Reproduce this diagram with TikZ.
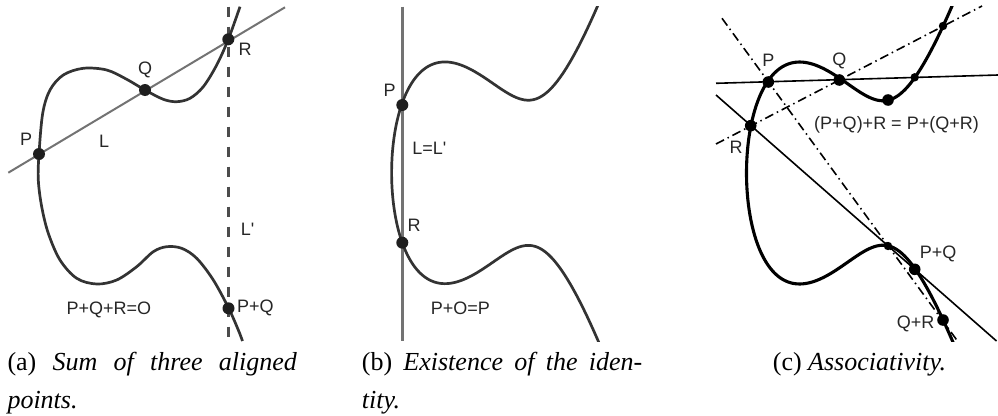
\documentclass[tikz,border=0pt]{standalone}
\usepackage{fontspec}
\setmainfont{Liberation Serif}
\newfontfamily\labfont{Liberation Sans}
\begin{document}
\begin{tikzpicture}[x=1pt,y=-1pt,
  lab/.style={inner sep=0pt, anchor=base, font=\labfont\fontsize{18}{20}\selectfont, text=black!85},
  captxt/.style={inner sep=0pt, anchor=base west, font=\fontsize{26}{30}\selectfont},
  dotA/.style={circle, fill=black!88, inner sep=0pt, minimum size=12pt},
  dotbig/.style={circle, fill=black, inner sep=0pt, minimum size=11.6pt},
  dotsmall/.style={circle, fill=black, inner sep=0pt, minimum size=8.4pt},
  curveA/.style={line width=2.7pt, draw=black!80, line join=round},
  lineA/.style={line width=2pt, draw=black!55},
  dashA/.style={line width=2.4pt, draw=black!70, dash pattern=on 10pt off 10pt},
  curveC/.style={line width=3.1pt, draw=black, line join=round},
  lineC/.style={line width=1.6pt, draw=black},
  dashdotC/.style={line width=1.6pt, draw=black, dash pattern=on 9pt off 4pt on 1.5pt off 4pt}
]
\useasboundingbox (0,0) rectangle (998,415);

% ---------------- panel (a) ----------------
\coordinate (La) at (8.3,172.7);
\coordinate (Lb) at (285,7.3);
\coordinate (Ltop) at (228.3,6.7);
\coordinate (Lbot) at (228.3,341);
\draw[lineA] (La) -- (Lb);
\draw[dashA] (Ltop) -- (Lbot);
\draw[curveA] plot[smooth, tension=0.55] coordinates {
 (240,6.7) (228.3,39.3) (216.7,65) (203.3,86.7) (190,98.3) (176.7,101.7)
 (163.3,99.3) (145,90) (126.7,79.3) (106.7,70) (83.3,68.3) (63.3,75)
 (50,90) (42.7,113.3) (39,154) (38.3,180) (41.7,206.7) (48.3,233.3)
 (60,260) (76.7,278.3) (96.7,284) (116.7,280) (136.7,266.7) (153.3,251.7)
 (166.7,246.7) (181.7,248.3) (196.7,258.3) (213.3,280) (228.7,308.3) (238.3,330) (242.5,341)};
\node[dotA] (aP) at (39,154) {};
\node[dotA] (aQ) at (145,90) {};
\node[dotA] (aR) at (228.3,39.3) {};
\node[dotA] (aPQ) at (228.5,308.3) {};
\node[lab] (laR) at (245,55.7) {R};
\node[lab] (laQ) at (145,74.7) {Q};
\node[lab] (laP) at (26.2,145.7) {P};
\node[lab] (laL) at (104.2,147.1) {L};
\node[lab] (laL2) at (247.5,235.7) {L\textquotesingle};
\node[lab] (laSum) at (108.8,314.7) {P+Q+R=O};
\node[lab] (laPQ) at (255.3,312.4) {P+Q};

% ---------------- panel (b) ----------------
\coordinate (Vtop) at (402.3,6.7);
\coordinate (Vbot) at (402.3,341);
\draw[line width=2.4pt, draw=black!55] (Vtop) -- (Vbot);
\begin{scope}
\clip (330,6.7) rectangle (700,341);
\draw[curveA] plot[domain=-2.3:2.26, samples=241, variable=\t]
  ({486.65+41.7*(\t*\t-2.279)},
   {172.8-41.9*\t*sqrt((\t*\t-2.279)*(\t*\t-2.279)-2.279*(\t*\t-2.279)+2.194)});
\end{scope}
\node[dotA] (bP) at (402.3,105) {};
\node[dotA] (bR) at (402.3,242.7) {};
\node[lab] (lbP) at (389.7,96.4) {P};
\node[lab] (lbR) at (414.2,231.4) {R};
\node[lab] (lbL) at (429.3,154.7) {L=L\textquotesingle};
\node[lab] (lbId) at (460.3,314.7) {P+O=P};

% ---------------- panel (c) ----------------
\coordinate (c1a) at (716,83.3);
\coordinate (c1b) at (998,75);
\coordinate (c2a) at (716,95);
\coordinate (c2b) at (996.5,341);
\coordinate (d1a) at (716,144);
\coordinate (d1b) at (982,6);
\coordinate (d2a) at (722,18.3);
\coordinate (d2b) at (957.5,341);
\draw[lineC] (c1a) -- (c1b);
\draw[lineC] (c2a) -- (c2b);
\draw[dashdotC] (d1a) -- (d1b);
\draw[dashdotC] (d2a) -- (d2b);
\begin{scope}
\clip (700,6.7) rectangle (998,341);
\draw[curveC] plot[domain=-14.6:14.35, samples=301, variable=\t]
  ({746.5+\t*\t},
   {173-\t*sqrt((0.15652*(\t*\t-142.2))*(0.15652*(\t*\t-142.2))+37.4)});
\end{scope}
\node[dotbig] (cP) at (768.3,82) {};
\node[dotbig] (cQ) at (839.3,80) {};
\node[dotbig] (cR) at (750.7,125.7) {};
\node[dotbig] (cM) at (888,100) {};
\node[dotbig] (cPQ) at (914.7,269.3) {};
\node[dotbig] (cQR) at (943,320) {};
\node[dotsmall] (cs1) at (914.7,77.3) {};
\node[dotsmall] (cs2) at (943,26) {};
\node[dotsmall] (cs3) at (888,246) {};
\node[lab] (lcP) at (768.3,66.4) {P};
\node[lab] (lcQ) at (839.3,65.7) {Q};
\node[lab] (lcR) at (736,153) {R};
\node[lab] (lcAs) at (896.5,129.7) {(P+Q)+R = P+(Q+R)};
\node[lab] (lcPQ) at (938,258.7) {P+Q};
\node[lab] (lcQR) at (915.5,328.4) {Q+R};

% ---------------- captions ----------------
\node[captxt] (capa1) at (7.3,370) {\makebox[289.4pt][s]{(a) \textit{Sum of three aligned}}};
\node[captxt] (capa2) at (7.3,408) {\textit{points.}};
\node[captxt] (capb1) at (361.7,370) {\makebox[280.3pt][s]{(b) \textit{Existence of the iden-}}};
\node[captxt] (capb2) at (361.7,408) {\textit{tity.}};
\node[captxt, anchor=base] (capc) at (859.5,370) {(c) \textit{Associativity.}};
\end{tikzpicture}
\end{document}
